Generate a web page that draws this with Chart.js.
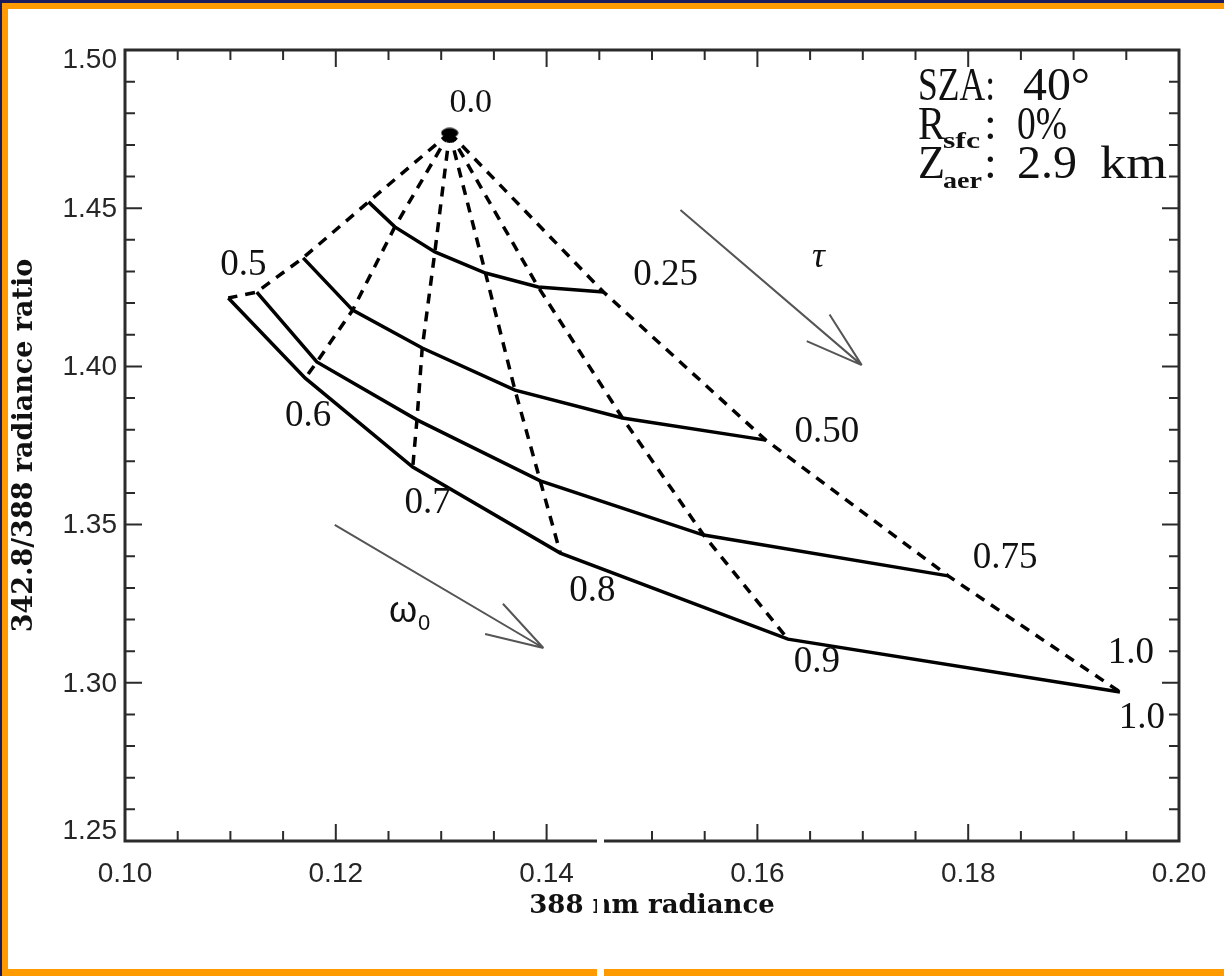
<!DOCTYPE html>
<html>
<head>
<meta charset="utf-8">
<script src="https://cdn.jsdelivr.net/npm/chart.js@4.4.1/dist/chart.umd.min.js"></script>
<style>
  html, body { margin: 0; padding: 0; background: #1c1c5c; }
  canvas { display: block; }
</style>
</head>
<body>
<canvas id="chart" width="1224" height="976"></canvas>
<script>
// Single-scattering albedo (omega0) and aerosol optical depth (tau) labels
const omegaLabels = ['0.5', '0.6', '0.7', '0.8', '0.9', '1.0'];
const tauLabels = ['0.25', '0.50', '0.75', '1.0'];

// Aerosol-free point (tau = 0)
const clearRadiance = 0.1308;
const clearRatio = 1.4738;

// 388 nm radiance and 342.8/388 ratio for each tau, omega0 = 0.5 ... 1.0
const tau025Radiance = [0.1231, 0.1256, 0.1294, 0.1342, 0.1392, 0.1454];
const tau025Ratio    = [1.4520, 1.4441, 1.4362, 1.4295, 1.4251, 1.4235];
const tau050Radiance = [0.1169, 0.1216, 0.1282, 0.1370, 0.1472, 0.1608];
const tau050Ratio    = [1.4343, 1.4178, 1.4058, 1.3925, 1.3837, 1.3767];
const tau075Radiance = [0.1125, 0.1182, 0.1277, 0.1394, 0.1549, 0.1781];
const tau075Ratio    = [1.4235, 1.4014, 1.3831, 1.3638, 1.3467, 1.3338];
const tau100Radiance = [0.1098, 0.1171, 0.1273, 0.1413, 0.1629, 0.1944];
const tau100Ratio    = [1.4216, 1.3963, 1.3682, 1.3410, 1.3138, 1.2971];

// Axis ticks
const xTickValues = [0.10, 0.12, 0.14, 0.16, 0.18, 0.20];
const yTickValues = [1.25, 1.30, 1.35, 1.40, 1.45, 1.50];

// Direction arrows (radiance, ratio)
const tauArrow = { from: [0.1527, 1.4494], to: [0.1699, 1.4004] };
const omegaArrow = { from: [0.1199, 1.3499], to: [0.1397, 1.3110] };

const tauRadiance = [tau025Radiance, tau050Radiance, tau075Radiance, tau100Radiance];
const tauRatio = [tau025Ratio, tau050Ratio, tau075Ratio, tau100Ratio];

// flattened dot used for the tau = 0 point
const blob = document.createElement('canvas');
blob.width = 18; blob.height = 11;
(() => {
  const b = blob.getContext('2d');
  b.fillStyle = '#000';
  b.beginPath();
  b.ellipse(9, 5.5, 8.5, 5, 0, 0, Math.PI * 2);
  b.fill();
})();

const datasets = [];

// dashed lines of constant omega0, running from tau = 0 to tau = 1
omegaLabels.forEach((lab, j) => {
  const pts = [{ x: clearRadiance, y: clearRatio }];
  for (let i = 0; i < tauRadiance.length; i++) {
    pts.push({ x: tauRadiance[i][j], y: tauRatio[i][j] });
  }
  datasets.push({
    label: 'omega0 = ' + lab,
    data: pts,
    showLine: true,
    borderColor: '#000',
    borderWidth: 3.5,
    borderDash: [10, 8],
    pointRadius: 0,
    tension: 0
  });
});

// solid lines of constant tau
tauLabels.forEach((lab, i) => {
  datasets.push({
    label: 'tau = ' + lab,
    data: tauRadiance[i].map((x, j) => ({ x: x, y: tauRatio[i][j] })),
    showLine: true,
    borderColor: '#000',
    borderWidth: 3.5,
    pointRadius: 0,
    tension: 0
  });
});

// tau = 0 point
datasets.push({
  label: 'tau = 0',
  data: [{ x: clearRadiance, y: clearRatio }],
  showLine: false,
  pointStyle: blob,
  pointRadius: 6
});

// page frame behind the figure
const framePlugin = {
  id: 'frame',
  beforeDraw(chart) {
    const ctx = chart.ctx;
    ctx.save();
    ctx.fillStyle = '#1c1c5c';
    ctx.fillRect(0, 0, chart.width, chart.height);
    ctx.fillStyle = '#ff9a00';
    ctx.fillRect(2, 3, chart.width - 2, chart.height - 3);
    ctx.fillStyle = '#ffffff';
    ctx.fillRect(8, 9, chart.width - 8, 960);
    ctx.restore();
  }
};

function px(chart, x, y) {
  return [chart.scales.x.getPixelForValue(x), chart.scales.y.getPixelForValue(y)];
}

function drawArrow(ctx, a, b) {
  const ang = Math.atan2(b[1] - a[1], b[0] - a[0]);
  ctx.beginPath();
  ctx.moveTo(a[0], a[1]);
  ctx.lineTo(b[0], b[1]);
  const len = 60, spread = 17 * Math.PI / 180;
  [-spread, spread].forEach(s => {
    ctx.moveTo(b[0], b[1]);
    ctx.lineTo(b[0] - len * Math.cos(ang + s), b[1] - len * Math.sin(ang + s));
  });
  ctx.stroke();
}

// text stretched or squeezed horizontally to a given width
function fitText(ctx, text, x, y, width) {
  const w = ctx.measureText(text).width;
  ctx.save();
  ctx.translate(x, y);
  ctx.scale(width / w, 1);
  ctx.fillText(text, 0, 0);
  ctx.restore();
}

// box with inward ticks, labels, arrows and run parameters
const annotatePlugin = {
  id: 'annotate',
  afterDatasetsDraw(chart) {
    const ctx = chart.ctx;
    const a = chart.chartArea;
    const xs = chart.scales.x, ys = chart.scales.y;
    ctx.save();

    // axis box
    ctx.strokeStyle = '#2b2b2b';
    ctx.lineWidth = 3;
    ctx.strokeRect(a.left, a.top, a.right - a.left, a.bottom - a.top);

    // ticks
    ctx.lineWidth = 2;
    ctx.beginPath();
    for (let i = 0; i <= 20; i++) {
      const p = xs.getPixelForValue(0.10 + i * 0.005);
      const len = i % 4 === 0 ? 17 : 10;
      ctx.moveTo(p, a.bottom); ctx.lineTo(p, a.bottom - len);
      ctx.moveTo(p, a.top); ctx.lineTo(p, a.top + len);
    }
    for (let i = 0; i <= 25; i++) {
      const p = ys.getPixelForValue(1.25 + i * 0.01);
      const len = i % 5 === 0 ? 17 : 10;
      ctx.moveTo(a.left, p); ctx.lineTo(a.left + len, p);
      ctx.moveTo(a.right, p); ctx.lineTo(a.right - len, p);
    }
    ctx.stroke();

    // y tick labels; the end labels sit just inside the box
    ctx.fillStyle = '#262626';
    ctx.textAlign = 'right';
    ctx.textBaseline = 'middle';
    ctx.font = '28px "Liberation Sans"';
    const last = yTickValues.length - 1;
    yTickValues.forEach((v, k) => {
      let p = ys.getPixelForValue(v);
      if (k === 0) p -= 11;
      if (k === last) p += 9;
      ctx.fillText(v.toFixed(2), a.left - 8, p + 1);
    });

    // curve labels
    ctx.fillStyle = '#111';
    ctx.textAlign = 'center';
    ctx.font = '37px "Liberation Serif"';
    const tauOffsets = [[62, -17], [61, -8], [57, -18], [11, -39]];
    tauLabels.forEach((lab, i) => {
      const p = px(chart, tauRadiance[i][5], tauRatio[i][5]);
      ctx.fillText(lab, p[0] + tauOffsets[i][0], p[1] + tauOffsets[i][1]);
    });
    const omegaOffsets = [[15, -33], [3, 38], [15, 36], [32, 38], [29, 23], [22, 26]];
    omegaLabels.forEach((lab, j) => {
      const p = px(chart, tau100Radiance[j], tau100Ratio[j]);
      ctx.fillText(lab, p[0] + omegaOffsets[j][0], p[1] + omegaOffsets[j][1]);
    });
    const c = px(chart, clearRadiance, clearRatio);
    ctx.font = '34px "Liberation Serif"';
    ctx.fillText('0.0', c[0] + 21, c[1] - 30);

    // arrows
    ctx.strokeStyle = '#555';
    ctx.lineWidth = 2;
    drawArrow(ctx, px(chart, tauArrow.from[0], tauArrow.from[1]), px(chart, tauArrow.to[0], tauArrow.to[1]));
    drawArrow(ctx, px(chart, omegaArrow.from[0], omegaArrow.from[1]), px(chart, omegaArrow.to[0], omegaArrow.to[1]));

    ctx.textAlign = 'left';
    ctx.textBaseline = 'alphabetic';
    ctx.font = 'italic 36px "Liberation Serif"';
    ctx.fillText('τ', 812, 267);
    ctx.font = '36px "Liberation Sans"';
    ctx.fillText('ω', 389, 622);
    ctx.font = '22px "Liberation Sans"';
    ctx.fillText('0', 418, 630);

    // run parameters
    ctx.font = '46px "Liberation Serif"';
    fitText(ctx, 'SZA:', 918, 100, 77);
    fitText(ctx, '40°', 1023, 100, 67);
    fitText(ctx, 'R', 918, 139, 27);
    ctx.fillText(':', 984, 139);
    fitText(ctx, '0%', 1017, 139, 50);
    fitText(ctx, 'Z', 918, 178, 27);
    ctx.fillText(':', 984, 178);
    fitText(ctx, '2.9', 1017, 178, 60);
    fitText(ctx, 'km', 1100, 178, 67);
    ctx.font = 'bold 24px "Liberation Serif"';
    fitText(ctx, 'sfc', 943, 148, 37);
    fitText(ctx, 'aer', 943, 188, 39);
    ctx.restore();
  },
  afterDraw(chart) {
    // narrow white seam through the lower edge
    const ctx = chart.ctx;
    ctx.save();
    ctx.fillStyle = '#ffffff';
    ctx.fillRect(597, 822, 7, 154);
    ctx.restore();
  }
};

new Chart(document.getElementById('chart'), {
  type: 'scatter',
  data: { datasets: datasets },
  options: {
    responsive: false,
    animation: false,
    devicePixelRatio: 1,
    layout: { padding: { top: 50, right: 45, left: 0, bottom: 0 } },
    plugins: { legend: { display: false }, tooltip: { enabled: false } },
    scales: {
      x: {
        type: 'linear',
        min: 0.10,
        max: 0.20,
        afterBuildTicks: s => { s.ticks = xTickValues.map(v => ({ value: v })); },
        afterFit: s => { s.height = 135; },
        grid: { display: false, drawTicks: false },
        border: { display: false },
        ticks: {
          callback: v => v.toFixed(2),
          font: { family: '"Liberation Sans"', size: 28 },
          color: '#262626',
          padding: 16,
          maxRotation: 0
        },
        title: {
          display: true,
          text: '388 nm radiance',
          font: { family: '"DejaVu Serif"', size: 26, weight: 'bold' },
          color: '#111',
          padding: { top: 0, bottom: 54 }
        }
      },
      y: {
        type: 'linear',
        min: 1.25,
        max: 1.50,
        afterBuildTicks: s => { s.ticks = yTickValues.map(v => ({ value: v })); },
        afterFit: s => { s.width = 125; },
        grid: { display: false, drawTicks: false },
        border: { display: false },
        ticks: { display: false },
        title: {
          display: true,
          text: '342.8/388 radiance ratio',
          font: { family: '"DejaVu Serif"', size: 27, weight: 'bold' },
          color: '#111',
          padding: { top: 9, bottom: 0 }
        }
      }
    }
  },
  plugins: [framePlugin, annotatePlugin]
});
</script>
</body>
</html>
